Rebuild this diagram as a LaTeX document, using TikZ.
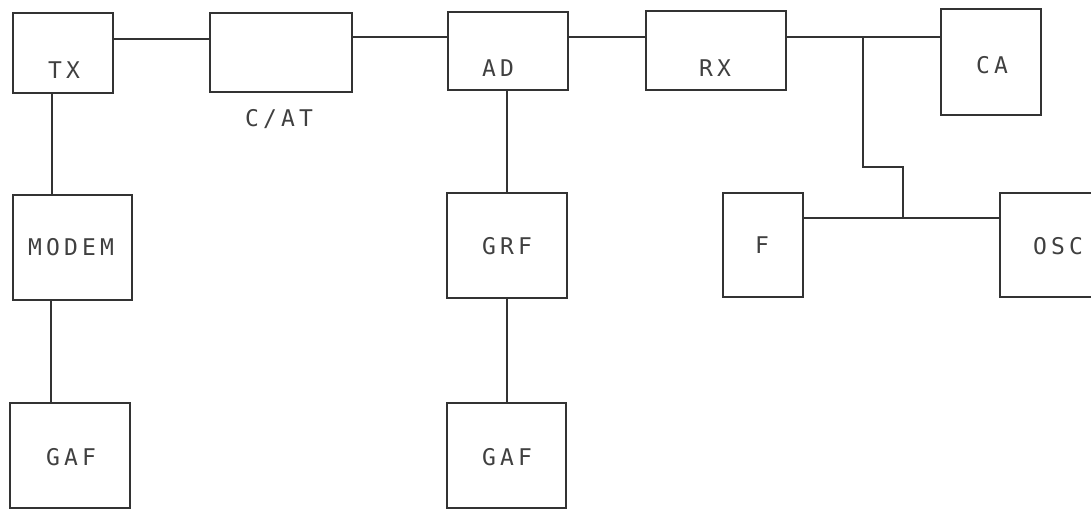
\documentclass[tikz,border=0pt]{standalone}
\usepackage{fontspec}
\newfontfamily\dotfont[LetterSpace=18]{DejaVu Sans Mono}
\begin{document}
\begin{tikzpicture}[x=1pt,y=-1pt,
  blk/.style={draw=black!80, line width=2pt, rectangle, inner sep=0pt},
  lbl/.style={text=black!75, font=\dotfont\fontsize{23}{25}\selectfont, inner sep=0pt},
  wire/.style={draw=black!80, line width=2pt}]
\useasboundingbox (0,0) rectangle (1091,509);
% boxes
\node[blk, minimum width=100pt, minimum height=80pt] (tx) at (63,53) {};
\node[blk, minimum width=142pt, minimum height=79pt] (cat) at (281,52.5) {};
\node[blk, minimum width=120pt, minimum height=78pt] (ad) at (508,51) {};
\node[blk, minimum width=140pt, minimum height=79pt] (rx) at (716,50.5) {};
\node[blk, minimum width=100pt, minimum height=106pt] (ca) at (991,62) {};
\node[blk, minimum width=119pt, minimum height=105pt] (modem) at (72.5,247.5) {};
\node[blk, minimum width=120pt, minimum height=105pt] (gafl) at (70,455.5) {};
\node[blk, minimum width=120pt, minimum height=105pt] (grf) at (507,245.5) {};
\node[blk, minimum width=119pt, minimum height=105pt] (gafm) at (506.5,455.5) {};
\node[blk, minimum width=80pt, minimum height=104pt] (f) at (763,245) {};
\node[blk, minimum width=116pt, minimum height=104pt] (osc) at (1058,245) {};
% labels
\node[lbl] (txl) at (64,70) {TX};
\node[lbl] (catl) at (279,119) {C/AT};
\node[lbl] (adl) at (498,68) {AD};
\node[lbl] (rxl) at (715,68) {RX};
\node[lbl] (cal) at (992,65) {CA};
\node[lbl] (modeml) at (71,247) {MODEM};
\node[lbl] (gafll) at (71,457) {GAF};
\node[lbl] (grfl) at (507,246) {GRF};
\node[lbl] (gafml) at (507,457) {GAF};
\node[lbl] (fl) at (762,245) {F};
\node[lbl] (oscl) at (1058,246) {OSC};
% junction coordinates
\coordinate (j1) at (863,37);
\coordinate (j2) at (863,167);
\coordinate (j3) at (903,167);
\coordinate (j4) at (903,218);
% connectors
\draw[wire] (tx.east |- 0,39) -- (cat.west |- 0,39);
\draw[wire] (cat.east |- 0,37) -- (ad.west |- 0,37);
\draw[wire] (ad.east |- 0,37) -- (rx.west |- 0,37);
\draw[wire] (rx.east |- 0,37) -- (ca.west |- 0,37);
\draw[wire] (j1) -- (j2) -- (j3) -- (j4);
\draw[wire] (f.east |- 0,218) -- (osc.west |- 0,218);
\draw[wire] (tx.south -| 52,0) -- (modem.north -| 52,0);
\draw[wire] (modem.south -| 51,0) -- (gafl.north -| 51,0);
\draw[wire] (ad.south -| 507,0) -- (grf.north -| 507,0);
\draw[wire] (grf.south -| 507,0) -- (gafm.north -| 507,0);
\end{tikzpicture}
\end{document}
